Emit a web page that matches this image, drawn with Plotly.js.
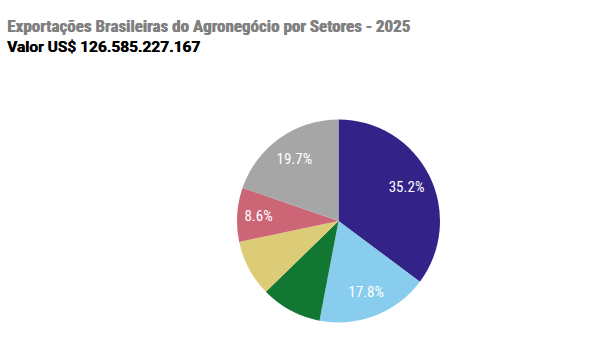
<!DOCTYPE html>
<html>
<head>
<meta charset="utf-8">
<script src="https://cdn.plot.ly/plotly-3.0.1.min.js"></script>
<style>html,body{margin:0;padding:0;background:#fff;}#chart{width:613px;height:359px;}</style>
</head>
<body>
<div id="chart"></div>
<script>
var sectors = ["Complexo soja", "Carnes", "Produtos florestais", "Complexo sucroalcooleiro", "Café", "Demais setores"];
var shares = [35.2, 17.8, 9.7, 9.0, 8.6, 19.7];
var showLabel = [true, true, false, false, true, true];
var colors = ["#332288", "#88CCEE", "#117733", "#DDCC77", "#CC6677", "#A6A6A6"];
var titleText = "Exportações Brasileiras do Agronegócio por Setores - 2025";
var subtitleText = "Valor US$ 126.585.227.167";

var W = 613, H = 359;
var cx = 338.5, cy = 221, r = 101.5;
var FONT = "Roboto Condensed, DejaVu Sans Condensed, sans-serif";
var dom = {x: [(cx - r) / W, (cx + r) / W], y: [(H - cy - r) / H, (H - cy + r) / H]};

var pieTrace = {
  type: "pie",
  labels: sectors,
  values: shares,
  sort: false,
  direction: "clockwise",
  rotation: 0,
  marker: {colors: colors, line: {color: "#ffffff", width: 0}},
  textinfo: "none",
  hoverinfo: "label+percent",
  showlegend: false,
  domain: dom
};

// transparent ring on top that carries the percentage labels at ~3/4 radius
var labelTrace = {
  type: "pie",
  labels: sectors,
  values: shares,
  sort: false,
  direction: "clockwise",
  rotation: 0,
  hole: 0.5,
  marker: {colors: sectors.map(function(){ return "rgba(0,0,0,0)"; }), line: {width: 0}},
  texttemplate: showLabel.map(function(s){ return s ? "%{percent:.1%}" : ""; }),
  textposition: "inside",
  insidetextorientation: "horizontal",
  insidetextfont: {color: "#ffffff", size: 15, family: FONT},
  hoverinfo: "skip",
  showlegend: false,
  domain: dom
};

var layout = {
  width: W, height: H,
  margin: {l: 0, r: 0, t: 0, b: 0},
  paper_bgcolor: "#ffffff",
  showlegend: false,
  annotations: [
    {text: "<b>" + titleText + "</b>", xref: "paper", yref: "paper", x: 5 / W, y: 1 - 26 / H,
     xanchor: "left", yanchor: "middle", showarrow: false,
     font: {size: 17, color: "#808080", family: FONT, shadow: "0.6px 0 0 #808080"}},
    {text: "<b>" + subtitleText + "</b>", xref: "paper", yref: "paper", x: 5 / W, y: 1 - 47 / H,
     xanchor: "left", yanchor: "middle", showarrow: false,
     font: {size: 15.5, color: "#000000", family: "Roboto, sans-serif", shadow: "0.4px 0 0 #000000"}}
  ]
};

Plotly.newPlot("chart", [pieTrace, labelTrace], layout, {displayModeBar: false, staticPlot: true});
</script>
</body>
</html>
